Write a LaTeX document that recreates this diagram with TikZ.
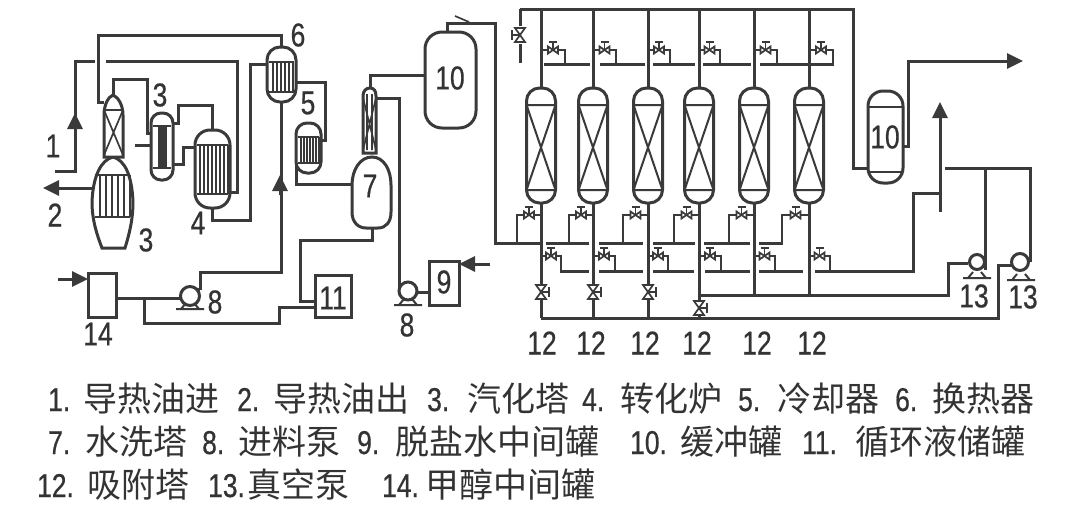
\documentclass[tikz,border=0pt]{standalone}
\usepackage{fontspec}
\setmainfont{Liberation Sans}
\newfontfamily\cjk{Noto Sans CJK SC}
\newfontfamily\lab[FakeStretch=0.8,FakeBold=0.6]{Liberation Sans}
\usetikzlibrary{arrows.meta,calc}
\definecolor{ink}{HTML}{3A3A3A}
\definecolor{txt}{HTML}{333333}
\tikzset{
  pipe/.style={draw=ink,line width=3pt,line join=miter},
  hook/.style={draw=ink,line width=2.6pt,line join=miter},
  thinl/.style={draw=ink,line width=1.7pt},
  stripe/.style={draw=ink,line width=2pt},
  vess/.style={draw=ink,line width=3pt,fill=white,inner sep=0pt,outer sep=0pt},
  capsule/.style={vess,rectangle,minimum width=29pt,minimum height=115pt,rounded corners=13pt},
  boxn/.style={vess,rectangle},
  pumpc/.style={vess,circle},
  arr/.style={pipe,-{Triangle[length=16pt,width=15pt]}},
  num/.style={text=txt,inner sep=0pt,font=\lab\fontsize{33}{33}\selectfont},
  legendtxt/.style={text=txt,inner sep=0pt,anchor=base west,font=\lab\fontsize{33}{33}\selectfont},
  pics/hvalve/.style={code={
    \draw[thinl,fill=white] (-5,-3.5)--(5,3.5)--(5,-3.5)--(-5,3.5)--cycle;
    \draw[thinl] (0,0)--(0,-7) (-4,-8)--(4,-8);
  }},
  pics/vvalve/.style={code={
    \draw[thinl,fill=white] (-5,-7)--(5,7)--(-5,7)--(5,-7)--cycle;
    \draw[thinl] (0,0)--(8,0) (8,-5)--(8,5);
  }},
  pics/pumpbase/.style={code={
    \draw[thinl,line width=2pt] (-14,0)--(14,0) (-9,0)--(-4,-6) (9,0)--(4,-6);
  }},
}
\newcommand{\bank}[6]{%
  \draw[stripe] (#1,#3)--(#2,#3) (#1,#4)--(#2,#4);
  \foreach \sx in {#5,#6,...,#2} {\draw[stripe] (\sx,#3)--(\sx,#4);}
}
% name, x, y, width kept for the number, number, Chinese text
\newcommand{\leg}[6]{%
  \node[legendtxt] (#1) at (#2,#3) {\makebox[#4pt][l]{#5}{\cjk\fontsize{34}{34}\selectfont #6}};
}
\begin{document}
\begin{tikzpicture}[x=1pt,y=-1pt]
\useasboundingbox (0,0) rectangle (1080,509);

% ---------- equipment
\node[boxn,minimum width=28pt,minimum height=44pt] (b14) at (102,295) {};
\node[boxn,minimum width=36pt,minimum height=42pt] (b11) at (333,296) {};
\node[boxn,minimum width=30pt,minimum height=44pt] (b9) at (444,283) {};
\node[vess,rectangle,minimum width=29pt,minimum height=55pt,rounded corners=13pt] (v6) at (281.5,74.5) {};
\node[vess,rectangle,minimum width=25pt,minimum height=50pt,rounded corners=11pt] (v5) at (308.5,148) {};
\node[vess,rectangle,minimum width=35pt,minimum height=78pt,rounded corners=15pt] (v4) at (212.5,169) {};
\node[vess,rectangle,minimum width=22pt,minimum height=67pt,rounded corners=10pt] (v3b) at (162,146.5) {};
\node[vess,rectangle,minimum width=51pt,minimum height=96pt,rounded corners=17pt] (v10) at (450.5,80) {};
\node[vess,rectangle,minimum width=35pt,minimum height=92pt,rounded corners=15pt] (v10b) at (885.5,137) {};
\foreach \i/\x in {1/541,2/593,3/648,4/699,5/754,6/809}
  \node[capsule] (T\i) at (\x,145.5) {};

\coordinate (a1s) at (55,171);
\coordinate (a1c) at (75,171);
\coordinate (a1t) at (75,61);
\coordinate (a1e) at (95,61);
\coordinate (towerTop) at (113,95);
\coordinate (towerW) at (104,102);
\coordinate (t7top) at (370,88);
\coordinate (t7r) at (376,98);
\coordinate (v7w) at (352,184);
\coordinate (v7s) at (372,228);
\coordinate (v3out) at (93,188);
\coordinate (out2) at (43,188);
\coordinate (H1) at (520,9);
\coordinate (H2) at (853,9);

% ---------- pipes, left
\draw[pipe] (a1s)--(a1c)--(a1t)--(a1e);
\draw[pipe] (106,61)--(237,61)--(237,192)--(v4.east |- 0,192);
\draw[pipe] (towerW)--(98,102)--(98,35)--(v6.north |- 0,35)--(v6.north);
\draw[pipe] (towerTop)--(113,79)--(147,79)--(147,133)--(v3b.west |- 0,133);
\draw[pipe] (135,145)--(v3b.west |- 0,145);
\draw[pipe] (v3b.east |- 0,123)--(178,123)--(178,105)--(v4.north |- 0,105)--(v4.north);
\draw[pipe] (v3b.east |- 0,164)--(183,164)--(183,147)--(v4.west |- 0,147);
\draw[pipe] (v4.south)--(v4.south |- 0,220)--(250,220)--(250,64)--(v6.west |- 0,64);
\draw[pipe] (v6.east |- 0,82)--(325,82)--(325,140)--(v5.east |- 0,140);
\draw[pipe] (v5.west |- 0,163)--(296,184)--(v7w);
\draw[pipe] (v6.south)--(v6.south |- 0,272)--(200,272)--(200,290);
\draw[pipe] (b14.east |- 0,298)--(180,298);
\draw[pipe] (144,298)--(144,323)--(279,323)--(279,307)--(b11.west |- 0,307);
\draw[pipe] (b11.west |- 0,301)--(300,301)--(300,240)--(372,240)--(v7s);
\draw[pipe] (t7r)--(399,98)--(399,287);
\draw[pipe] (410,292)--(b9.west |- 0,292);
\draw[pipe] (t7top)--(370,75)--(v10.west |- 0,75);
\draw[pipe] (447,32)--(447,23)--(495,23)--(495,243)--(T1.south |- 0,243);
% arrows
\draw[arr] (75,135)--(75,113);
\draw[arr] (v3out)--(out2);
\draw[arr] (280,195)--(280,175);
\draw[arr] (58,279)--(b14.west |- 0,279);
\draw[arr] (490,264)--(b9.east |- 0,264);
\draw[thinl] (455,16)--(469,22);

% ---------- vessel 3 lower and tower
\draw[vess] (113,157) .. controls (101,160) and (93,176) .. (92,202) .. controls (92,220) and (97,235) .. (102,248) -- (125,248) .. controls (129,235) and (133,220) .. (133,202) .. controls (132,176) and (125,160) .. (113,157) -- cycle;
\bank{95}{130}{175}{217}{100}{106}
\draw[vess] (104,157)--(104,115) .. controls (104,105) and (108,97) .. (113,95) .. controls (118,97) and (123,105) .. (123,115)--(123,157)--cycle;
\draw[thinl] (104,110)--(123,110) (104,110)--(123,155) (123,110)--(104,155);
% bundles
\draw[stripe] (153,126)--(171,126) (153,168)--(171,168);
\fill[ink] (158,126) rectangle (167,168);
\bank{197}{228}{145}{194}{200}{204}
\bank{269}{294}{62}{92}{273}{277}
\bank{298}{319}{137}{163}{301}{304}
% column 7
\draw[vess] (372,157) .. controls (360,157) and (352,170) .. (352,185) -- (352,212) .. controls (352,222) and (358,228) .. (366,228) -- (378,228) .. controls (386,228) and (391,222) .. (391,212) -- (391,185) .. controls (391,170) and (384,157) .. (372,157) -- cycle;
\draw[vess] (363,153)--(363,96) .. controls (363,91) and (366,88) .. (370,88) .. controls (374,88) and (376,91) .. (376,96)--(376,153)--cycle;
\draw[thinl] (367,94)--(367,150) (372,94)--(372,150) (363,98)--(376,150) (376,98)--(363,150);
% vessel 10b lines
\draw[thinl] (v10b.west |- 0,107)--(v10b.east |- 0,107) (v10b.west |- 0,172)--(v10b.east |- 0,172);

% ---------- adsorbers
\foreach \i in {1,...,6} {
  \draw[stripe] (T\i.west |- 0,105)--(T\i.east |- 0,105) (T\i.west |- 0,190)--(T\i.east |- 0,190)
     (T\i.west |- 0,105)--(T\i.east |- 0,190) (T\i.east |- 0,105)--(T\i.west |- 0,190);
  \draw[pipe] (T\i.north |- H1)--(T\i.north);
}
\draw[pipe] (H1)--(H2)--(853,168)--(v10b.west |- 0,168);
\draw[pipe] (H1)--(520,26);
\draw[pipe] (520,44)--(520,63);
\pic at (520,35) [xscale=-1] {vvalve};
% top hooks
\foreach \i/\h in {1/565,2/616,3/670,4/720,5/777,6/833} {
  \draw[hook] (T\i.north |- 0,50)--(\h,50)--(\h,64);
  \pic at ($(T\i.north |- 0,50)!.5!(\h,50)$) {hvalve};
}
\draw[pipe] (544,64)--(590,64) (600,64)--(645,64) (653,64)--(695,64) (703,64)--(751,64) (760,64)--(834.3,64);
% lower
\foreach \i/\e in {1/318,2/318,3/318,4/318,5/295,6/295} \draw[pipe] (T\i.south)--(T\i.south |- 0,\e);
\foreach \i/\h in {1/517,2/569,3/623,4/674,5/729,6/782} {
  \draw[hook] (T\i.south |- 0,215)--(\h,215)--(\h,243);
  \pic at ($(T\i.south |- 0,215)!.5!(\h,215)$) {hvalve};
}
\draw[pipe] (546,243)--(589,243) (599,243)--(643,243) (653,243)--(695,243) (704,243)--(750,243) (759,243)--(783.3,243);
\foreach \i/\h in {1/561,2/615,3/668,4/721,5/775,6/830} {
  \draw[hook] (T\i.south |- 0,256)--(\h,256)--(\h,271);
  \pic at ($(T\i.south |- 0,256)!.5!(\h,256)$) {hvalve};
}
\draw[pipe] (560,271)--(589,271) (599,271)--(643,271) (653,271)--(694,271) (705,271)--(750,271) (759,271)--(803,271) (815,271)--(913,271)--(913,193)--(940,193);
\foreach \x/\y in {541/292,593/292,648/292,699/308} \pic at (\x,\y) {vvalve};
\draw[pipe] (T4.south |- 0,295)--(948,295)--(948,263)--(968,263);
\draw[pipe] (T1.south |- 0,318)--(998,318)--(998,265)--(1012,265);
\draw[pipe] (985,270)--(985,168);
\draw[pipe] (1030,262)--(1030,168)--(945,168);
\draw[pipe] (940,212)--(940,125);
\draw[arr] (940,125)--(940,102);
\draw[pipe] (v10b.east |- 0,146)--(908,146)--(908,61)--(1005,61);
\draw[arr] (1000,61)--(1023,61);
% pumps
\pic at (190,309) {pumpbase};
\pic at (408,305) {pumpbase};
\pic at (977,278) {pumpbase};
\pic at (1021,280) {pumpbase};
\node[pumpc,minimum size=19pt] (p8a) at (190,296) {};
\node[pumpc,minimum size=18pt] (p8b) at (408,291) {};
\node[pumpc,minimum size=15pt] (p13a) at (977,262) {};
\node[pumpc,minimum size=17pt] (p13b) at (1020,262) {};
\draw[pipe] (p8a.north east)--(200,290);

% ---------- numbers
\foreach \n/\x/\y/\t in {n1/53/146/1,n2/55/215/2,n3a/146/240/3,n3b/160/95/3,n4/198/223/4,n5/308/103/5,n6/298/35/6,n7/370/186/7,n8a/215/302/8,n8b/407/325/8,n9/444/282/9,n10a/450/78/10,n10b/885/137/10,n11/333/298/11,n14/98/334/14,
 n12a/542/343/12,n12b/591/343/12,n12c/645/343/12,n12d/697/343/12,n12e/757/343/12,n12f/812/343/12,n13a/974/296/13,n13b/1023/297/13}
  \node[num] (\n) at (\x,\y) {\t};

% ---------- legend
\leg{c1}{48}{411}{35}{1.}{导热油进}
\leg{c2}{237}{411}{36}{2.}{导热油出}
\leg{c3}{427}{411}{40}{3.}{汽化塔}
\leg{c4}{582}{411}{38}{4.}{转化炉}
\leg{c5}{738}{411}{39}{5.}{冷却器}
\leg{c6}{895}{411}{37}{6.}{换热器}
\leg{c7}{48}{454}{37}{7.}{水洗塔}
\leg{c8}{202}{454}{36}{8.}{进料泵}
\leg{c9}{357}{454}{38}{9.}{脱盐水中间罐}
\leg{c10}{630}{454}{50}{10.}{缓冲罐}
\leg{c11}{802}{454}{53}{11.}{循环液储罐}
\leg{c12}{37}{497}{50}{12.}{吸附塔}
\leg{c13}{208}{497}{39}{13.}{真空泵}
\leg{c14}{382}{497}{43}{14.}{甲醇中间罐}
\end{tikzpicture}
\end{document}
